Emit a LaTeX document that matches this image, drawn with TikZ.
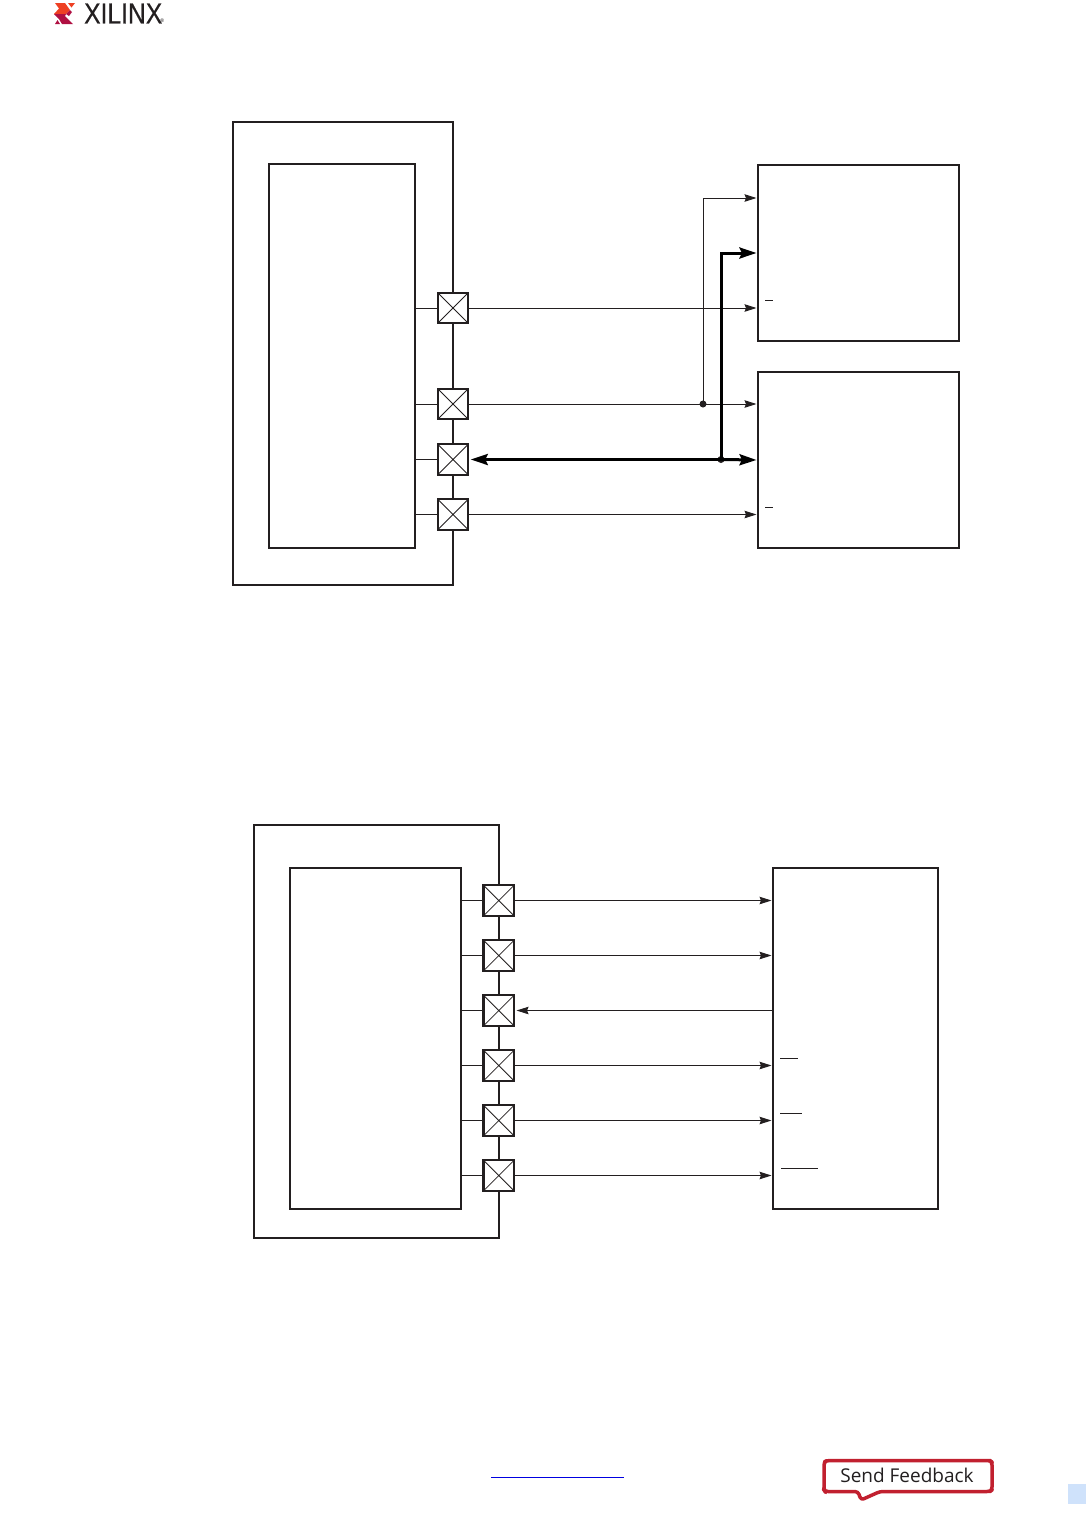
\documentclass[tikz,border=0pt]{standalone}
\usepackage{fontspec}
\setmainfont{Open Sans}
\newfontfamily\logofont[FakeBold=0.4]{Liberation Sans}
\usetikzlibrary{arrows.meta,calc}
\definecolor{cink}{HTML}{231f20}
\definecolor{cred}{HTML}{c1202f}
\definecolor{corange}{HTML}{ee4023}
\definecolor{cmaroon}{HTML}{b01042}
\definecolor{clink}{HTML}{0000e0}
\definecolor{cpage}{HTML}{cfe2fb}
\tikzset{
  blockbox/.style={draw=cink, line width=1.8pt, inner sep=0pt, outer sep=0pt},
  padbox/.style={draw=cink, line width=2.4pt, fill=white, inner sep=0pt, outer sep=0pt, minimum size=30.5pt},
  padcross/.style={draw=cink, line width=.8pt},
  sigline/.style={draw=cink, line width=.9pt},
  sigarrow/.style={sigline, -{Stealth[length=12pt, width=7.5pt, inset=1.5pt]}, shorten >=1.5pt},
  busarrow/.style={draw=black, line width=3pt, -{Stealth[length=17pt, width=11pt, inset=2.5pt]}, shorten >=1.5pt},
  junction/.style={circle, fill=cink, inner sep=0pt, minimum size=7pt},
  overbar/.style={draw=cink, line width=.9pt},
}
\begin{document}
\begin{tikzpicture}[x=1pt, y=-1pt]
  \useasboundingbox (0,0) rectangle (1086,1516);
  % header logo
  \fill[corange] (55,3) -- (65,3) -- (70,10) -- (66,14) -- (54,14) -- (59,8.5) -- cycle;
  \fill[corange] (68,3) -- (75,3) -- (71.5,7.5) -- cycle;
  \fill[cmaroon] (54,14) -- (66,14) -- (65,16) -- (73,24) -- (62,24) -- (59,19) -- cycle;
  \fill[cmaroon] (55,24) -- (60,24) -- (57.5,20) -- cycle;
  \fill[cmaroon] (70,10) -- (72,12) -- (69,16) -- (66,14) -- cycle;
  \node[cink, anchor=west, xscale=.85, font=\fontsize{29}{29}\logofont, inner sep=0pt] (logotext) at (84,13.5) {XILINX};
  \node[cink, anchor=west, font=\fontsize{5}{5}\selectfont, inner sep=0pt] (logomark) at (160,21) {®};

  % first picture: two memories
  \node[blockbox, minimum width=220pt, minimum height=463pt] (bankA) at (343,353.5) {};
  \node[blockbox, minimum width=146pt, minimum height=384pt] (coreA) at (342,356) {};
  \node[blockbox, minimum width=201pt, minimum height=176pt] (memA) at (858.5,253) {};
  \node[blockbox, minimum width=201pt, minimum height=176pt] (memB) at (858.5,460) {};
  \foreach \n/\y in {A/308,B/404,C/459.5,D/514.5} {
    \node[padbox] (pad\n) at (453,\y) {};
    \draw[padcross] (pad\n.north west) -- (pad\n.south east) (pad\n.south west) -- (pad\n.north east);
    \draw[sigline] (coreA.east |- pad\n) -- (pad\n.west);
  }
  \node[junction] (dotclk) at (703,404) {};
  \node[junction] (dotbus) at (721,459.5) {};
  \coordinate (clkin) at ($(memA.west)+(0,-55)$);
  \draw[sigarrow] (padA.east) -- (padA -| memA.west);
  \draw[sigarrow] (padB.east) -- (padB -| memB.west);
  \draw[sigarrow] (padD.east) -- (padD -| memB.west);
  \draw[sigarrow] (dotclk.center) |- (clkin);
  \draw[busarrow] (dotbus.center) |- (memA.west);
  \draw[busarrow] (dotbus.center) -- (memB.west);
  \draw[busarrow] (dotbus.center) -- ($(padC.east)+(1,0)$);
  \draw[overbar] (765,300) -- (773,300);
  \draw[overbar] (765,507) -- (773,507);

  % second picture: one memory
  \node[blockbox, minimum width=245pt, minimum height=413pt] (bankB) at (376.5,1031.5) {};
  \node[blockbox, minimum width=171.5pt, minimum height=341pt] (coreB) at (375.6,1038.5) {};
  \node[blockbox, minimum width=165pt, minimum height=341pt] (memC) at (855.5,1038.5) {};
  \foreach \n/\y in {E/900.5,F/955.5,G/1010.5,H/1065.5,I/1120.5,J/1175.5} {
    \node[padbox] (pad\n) at (498.8,\y) {};
    \draw[padcross] (pad\n.north west) -- (pad\n.south east) (pad\n.south west) -- (pad\n.north east);
    \draw[sigline] (coreB.east |- pad\n) -- (pad\n.west);
  }
  \draw[sigarrow] (padE.east) -- (padE -| memC.west);
  \draw[sigarrow] (padF.east) -- (padF -| memC.west);
  \draw[sigarrow] (padG -| memC.west) -- ($(padG.east)+(1,0)$);
  \draw[sigarrow] (padH.east) -- (padH -| memC.west);
  \draw[sigarrow] (padI.east) -- (padI -| memC.west);
  \draw[sigarrow] (padJ.east) -- (padJ -| memC.west);
  \draw[overbar] (780,1058) -- (798,1058);
  \draw[overbar] (780,1113) -- (802,1113);
  \draw[overbar] (781,1168) -- (818,1168);

  % footer
  \draw[clink, line width=.9pt] (491,1477) -- (624,1477);
  \draw[cred, line width=3.5pt, line join=round, fill=white, rounded corners=3pt]
    (827,1460.5) -- (990,1460.5) -- (992,1462) -- (992,1490) -- (990,1491.5) -- (880,1491.5) -- (861,1500) -- (858,1491.5) -- (825,1491.5) -- (824,1490) -- (824,1462) -- cycle;
  \node[cink, font=\fontsize{19}{19}\selectfont, inner sep=0pt] (feedback) at (907,1475.5) {Send Feedback};
  \fill[cpage] (1068,1484) rectangle (1086,1504);
\end{tikzpicture}
\end{document}
